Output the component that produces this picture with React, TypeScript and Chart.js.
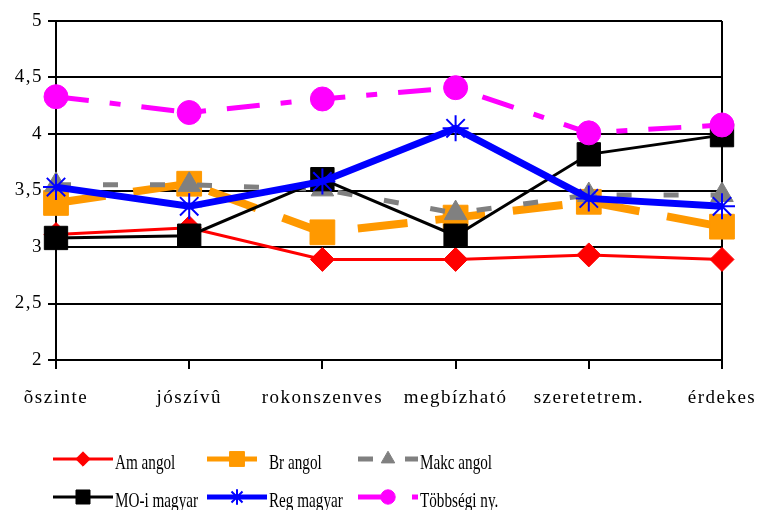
import React, { useEffect, useRef } from 'react';
import { Chart, registerables } from 'chart.js';
import { drawPoint } from 'chart.js/helpers';

Chart.register(...registerables);

const categories = ['õszinte', 'jószívû', 'rokonszenves', 'megbízható', 'szeretetrem.', 'érdekes'];
const seriesNames = ['Am angol', 'Br angol', 'Makc angol', 'MO-i magyar', 'Reg magyar', 'Többségi ny.'];
const amAngol = [3.11, 3.17, 2.89, 2.89, 2.93, 2.89];
const brAngol = [3.39, 3.56, 3.13, 3.26, 3.40, 3.18];
const makcAngol = [3.55, 3.55, 3.51, 3.30, 3.46, 3.46];
const moMagyar = [3.08, 3.10, 3.60, 3.10, 3.82, 3.99];
const regMagyar = [3.53, 3.36, 3.58, 4.05, 3.43, 3.36];
const tobbsegi = [4.33, 4.19, 4.31, 4.41, 4.01, 4.08];
const yMin = 2;
const yMax = 5;
const yStep = 0.5;

const FONT = "'Liberation Serif', 'Times New Roman', serif";

const styles = [
  { color: '#FF0000', width: 3, dash: [] as number[], style: 'rectRot', radius: 12, bw: 1 },
  { color: '#FF9900', width: 8, dash: [50, 28], style: 'rect', radius: 17.5, bw: 1 },
  { color: '#808080', width: 5, dash: [15, 32], style: 'triangle', radius: 13, bw: 1 },
  { color: '#000000', width: 3, dash: [] as number[], style: 'rect', radius: 16.5, bw: 1 },
  { color: '#0000FF', width: 7, dash: [] as number[], style: 'star', radius: 13, bw: 2 },
  { color: '#FF00FF', width: 5, dash: [33, 21, 11, 21], style: 'circle', radius: 12, bw: 1 },
];
const seriesData = [amAngol, brAngol, makcAngol, moMagyar, regMagyar, tobbsegi];

const legendPlugin = {
  id: 'customLegend',
  beforeLayout(chart: any) {
    chart.ctx.letterSpacing = '1.5px';
  },
  beforeDraw(chart: any) {
    chart.ctx.letterSpacing = '1.5px';
  },
  afterDraw(chart: any) {
    const ctx = chart.ctx;
    const cols = [[53, 113], [207, 267], [358, 418]];
    const rows = [[459, 469], [497, 507]];
    ctx.save();
    ctx.letterSpacing = '0px';
    chart.data.datasets.forEach((ds: any, i: number) => {
      const [x1, x2] = cols[i % 3];
      const [ly, ty] = rows[Math.floor(i / 3)];
      ctx.save();
      ctx.strokeStyle = ds.borderColor;
      ctx.lineWidth = Math.min(ds.borderWidth, 5);
      ctx.setLineDash(ds.borderDash || []);
      ctx.beginPath();
      ctx.moveTo(x1, ly);
      ctx.lineTo(x2, ly);
      ctx.stroke();
      ctx.setLineDash([]);
      ctx.fillStyle = ds.pointBackgroundColor;
      ctx.strokeStyle = ds.pointBorderColor;
      ctx.lineWidth = ds.pointBorderWidth;
      drawPoint(ctx, { pointStyle: ds.pointStyle, rotation: 0, radius: ds.pointRadius * 0.6, borderWidth: ds.pointBorderWidth }, (x1 + x2) / 2, ly);
      ctx.restore();
      ctx.save();
      ctx.fillStyle = '#000';
      ctx.font = `22px ${FONT}`;
      ctx.textBaseline = 'alphabetic';
      ctx.translate(x2 + 2, ty);
      ctx.scale(0.69, 1);
      ctx.fillText(ds.label, 0, 0);
      ctx.restore();
    });
    ctx.restore();
  },
};

export default function App() {
  const ref = useRef<HTMLCanvasElement>(null);
  useEffect(() => {
    if (!ref.current) return;
    const datasets = seriesNames.map((name, i) => {
      const s = styles[i];
      return {
        label: name,
        data: seriesData[i],
        borderColor: s.color,
        backgroundColor: s.color,
        borderWidth: s.width,
        borderDash: s.dash,
        pointStyle: s.style,
        pointRadius: s.radius,
        pointBackgroundColor: s.color,
        pointBorderColor: s.color,
        pointBorderWidth: s.bw,
        tension: 0,
        fill: false,
        clip: false,
        order: 6 - i,
      };
    });
    const chart = new Chart(ref.current, {
      type: 'line',
      data: { labels: categories, datasets },
      plugins: [legendPlugin],
      options: {
        animation: false,
        responsive: false,
        layout: { padding: { top: 21, right: 37, left: 0, bottom: 0 } },
        plugins: { legend: { display: false }, tooltip: { enabled: false } },
        scales: {
          x: {
            type: 'category',
            offset: false,
            afterFit: (scale: any) => {
              scale.height = 150;
              scale.paddingLeft = 0;
              scale.paddingRight = 0;
            },
            grid: {
              display: true,
              drawOnChartArea: true,
              color: (c: any) => (c.index === categories.length - 1 ? '#000' : 'rgba(0,0,0,0)'),
              tickColor: '#000',
              tickLength: 9,
              lineWidth: 2,
            },
            border: { display: true, color: '#000', width: 2 },
            ticks: {
              color: '#000',
              font: { family: FONT, size: 19 },
              padding: 18,
              maxRotation: 0,
              autoSkip: false,
            },
          },
          y: {
            min: yMin,
            max: yMax,
            afterFit: (scale: any) => {
              scale.width = 56;
              scale.paddingTop = 0;
              scale.paddingBottom = 0;
            },
            grid: { color: '#000', lineWidth: 2, tickLength: 8, tickColor: '#000' },
            border: { display: true, color: '#000', width: 2 },
            ticks: {
              stepSize: yStep,
              color: '#000',
              font: { family: FONT, size: 19 },
              padding: 5,
              callback: (v: any) => String(v).replace('.', ','),
            },
          },
        },
      },
    });
    return () => chart.destroy();
  }, []);
  return (
    <div style={{ position: 'fixed', left: 0, top: 0, width: 759, height: 510, background: '#fff' }}>
      <canvas ref={ref} width={759} height={510} style={{ width: 759, height: 510, display: 'block' }} />
    </div>
  );
}
